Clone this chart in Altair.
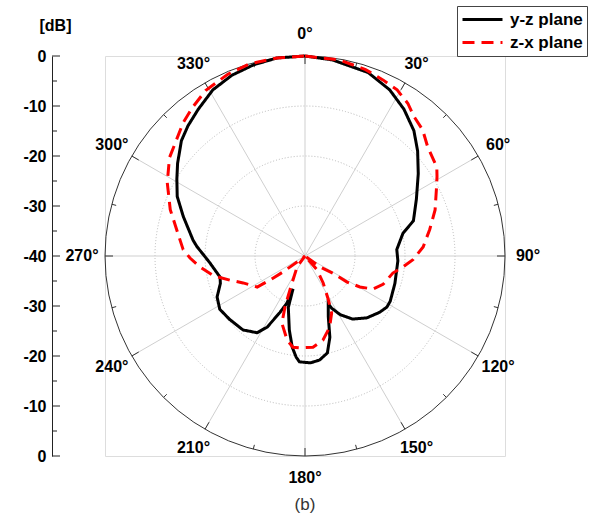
import altair as alt
import pandas as pd

# ---- data (angle in degrees clockwise from top, level in dB) ----
yz_angle = [0, 8, 19, 27, 34, 41, 47, 54, 63, 72, 77, 86, 93, 107, 118, 122, 127, 135, 143, 149, 153, 154,
            159, 163, 167, 172, 177, 183, 185, 188, 192, 198, 200, 201, 204, 208, 212, 220, 230, 238, 245,
            252, 256, 266, 275, 278, 288, 295, 301, 306, 313, 318, 324, 331, 338, 345, 352, 360]
yz_db = [0, -0.4, -1.2, -2.7, -4.6, -6.8, -9.2, -12, -15, -17.2, -19.9, -21.6, -21.4, -21.2, -20.7, -20.7,
         -21.3, -22.5, -24.2, -26.3, -28.3, -29.4, -27, -23, -20.1, -19, -18.6, -18.8, -19.7, -21.6, -24.9,
         -29.2, -33, -29.9, -27.6, -23.9, -21.9, -20.7, -20.3, -19.9, -20.6, -22.2, -22.5, -20.9, -18.3,
         -17.4, -14.4, -11.8, -10.1, -8.5, -6.2, -5, -3.7, -2, -1, -0.4, 0, 0]

zx_angle = [0, 10, 18, 24, 29, 34, 38, 43, 48.5, 56, 59, 63, 70.5, 78, 85.6, 92, 96.4, 101, 110, 116, 119.4,
            121.8, 121.5, 126, 133, 139, 146, 152, 155, 161, 168, 175, 183, 187.5, 192, 199, 201.4, 204,
            216, 225, 233, 234, 235.6, 237, 246.5, 252, 258, 264, 269, 273, 280, 289, 298, 306, 311, 317.5,
            323, 329, 337, 344, 352, 360]
zx_db = [0, -0.2, -0.8, -1.5, -2, -3.2, -4.6, -5.5, -7.2, -8.2, -9.2, -10.5, -12.4, -14.5, -16.3, -18.4,
         -20.3, -22.1, -23.4, -24.9, -27.4, -30.1, -33.4, -36.3, -40, -36.3, -33.5, -30, -27.4, -24.9,
         -22.8, -21.7, -21.6, -21.6, -22.8, -25.8, -29, -32.6, -37.3, -40, -38, -34.6, -31.5, -28.6, -26.5,
         -24.3, -21.2, -18.9, -17, -15.6, -14.2, -11.5, -8.8, -6.5, -5.6, -3.9, -2.7, -1.4, -0.5, 0, 0, 0]

series_names = ["y-z plane", "z-x plane"]
series_colors = ["black", "red"]

grid_db = [-30, -20, -10]
outer_db = [0]
spoke_angles = list(range(0, 360, 30))
tick_angles = list(range(0, 360, 15))
db_tick_values = list(range(-40, 41, 5))
db_label_values = list(range(-40, 41, 10))

# ---- tables ----
rows = []
for name, angs, dbs in [(series_names[0], yz_angle, yz_db), (series_names[1], zx_angle, zx_db)]:
    for i, (a, d) in enumerate(zip(angs, dbs)):
        rows.append({"series": name, "i": i, "angle": a, "db": d})
curves = pd.DataFrame(rows)

PX_PER_UNIT = 5.0
FONT = "Liberation Sans"

xscale = alt.Scale(domain=[-40, 40], nice=False, zero=False)
yscale = alt.Scale(domain=[-40, 40], nice=False, zero=False)
yaxis = alt.Axis(values=db_label_values, labelExpr="abs(datum.value) - 40", offset=53, ticks=False,
                 grid=False, domainColor="#222", domainWidth=1, labelFont=FONT,
                 labelFontWeight="bold", labelFontSize=16, labelColor="black", labelPadding=6,
                 title="[dB]", titleAngle=0, titleX=3, titleY=-31, titleAlign="center",
                 titleBaseline="middle", titleFont=FONT, titleFontSize=16,
                 titleFontWeight="bold", titleColor="black")


def X(f):
    return alt.X(f, type="quantitative", scale=xscale, axis=None)


def Y(f):
    return alt.Y(f, type="quantitative", scale=yscale, axis=yaxis)


# grid circles
circ = pd.DataFrame({"db": grid_db, "cx": 0, "cy": 0})
grid_circles = alt.Chart(circ).transform_calculate(
    s=f"pow(2*(datum.db+40)*{PX_PER_UNIT}, 2)"
).mark_point(shape="circle", filled=False, stroke="#b8b8b8", strokeWidth=1, strokeDash=[1, 2],
             opacity=1).encode(x=X("cx"), y=Y("cy"), size=alt.Size("s:Q", scale=None))

outer = alt.Chart(pd.DataFrame({"db": outer_db, "cx": 0, "cy": 0})).transform_calculate(
    s=f"pow(2*(datum.db+40)*{PX_PER_UNIT}, 2)"
).mark_point(shape="circle", filled=False, stroke="#333", strokeWidth=1, opacity=1).encode(
    x=X("cx"), y=Y("cy"), size=alt.Size("s:Q", scale=None))

# spokes
spk = pd.DataFrame({"angle": spoke_angles, "x0": 0, "y0": 0})
spokes = alt.Chart(spk).transform_calculate(
    x1="40*sin(datum.angle*PI/180)", y1="40*cos(datum.angle*PI/180)"
).mark_rule(color="#cfcfcf", strokeWidth=1).encode(
    x=X("x0"), y=Y("y0"), x2="x1:Q", y2="y1:Q")

# ticks on the outer circle
tk = pd.DataFrame({"angle": tick_angles})
circle_ticks = alt.Chart(tk).transform_calculate(
    rin="datum.angle % 30 == 0 ? 38.4 : 39.1",
    xa="40*sin(datum.angle*PI/180)", ya="40*cos(datum.angle*PI/180)",
    xb="datum.rin*sin(datum.angle*PI/180)", yb="datum.rin*cos(datum.angle*PI/180)"
).mark_rule(color="#333", strokeWidth=1).encode(x=X("xa"), y=Y("ya"), x2="xb:Q", y2="yb:Q")

# angle labels
lab = pd.DataFrame({"angle": spoke_angles})
angle_labels = alt.Chart(lab).transform_calculate(
    xt="44.6*sin(datum.angle*PI/180)", yt="44.4*cos(datum.angle*PI/180)",
    txt="datum.angle + '°'"
).mark_text(font=FONT, fontSize=16, fontWeight="bold", color="black",
            align="center", baseline="middle").encode(x=X("xt"), y=Y("yt"), text="txt:N")

# dB axis ticks (pointing right from axis line)
dbt = pd.DataFrame({"v": db_tick_values})
db_major = alt.Chart(dbt).transform_filter("datum.v % 10 == 0").mark_rule(
    color="#222", strokeWidth=1).encode(y=Y("v"), x=alt.value(-53), x2=alt.value(-45))
db_minor = alt.Chart(dbt).transform_filter("datum.v % 10 != 0").mark_rule(
    color="#222", strokeWidth=1).encode(y=Y("v"), x=alt.value(-53), x2=alt.value(-48))

legend_kw = dict(title=None, orient="none", legendX=352, legendY=-50,
                 strokeColor="#444", fillColor="white", padding=4,
                 labelFont=FONT, labelFontSize=17, labelFontWeight="bold", labelColor="black",
                 symbolType="stroke", symbolSize=1600, symbolStrokeWidth=3,
                 labelOffset=6, rowPadding=4, clipHeight=19)

# curves
lines = alt.Chart(curves).transform_calculate(
    r="max(datum.db + 40, 0)",
    x="datum.r*sin(datum.angle*PI/180)",
    y="datum.r*cos(datum.angle*PI/180)"
).mark_line(strokeWidth=3, clip=False).encode(
    x=X("x"), y=Y("y"),
    color=alt.Color("series:N", scale=alt.Scale(domain=series_names, range=series_colors),
                    legend=alt.Legend(**legend_kw)),
    strokeDash=alt.StrokeDash("series:N", scale=alt.Scale(domain=series_names, range=[[1, 0], [12, 7]]),
                              legend=alt.Legend(**legend_kw)),
    order="i:Q",
)

# caption
cap = pd.DataFrame({"cx": [0], "cy": [-49.8], "t": ["(b)"]})
caption = alt.Chart(cap).mark_text(font=FONT, fontSize=17, color="#333",
                                   align="center", baseline="middle").encode(
    x=X("cx"), y=Y("cy"), text="t:N")

chart = alt.layer(grid_circles, spokes, outer, circle_ticks, angle_labels, db_major, db_minor,
                  lines, caption).properties(
    width=400, height=400, autosize="none",
    padding={"left": 105, "top": 56, "right": 95, "bottom": 71},
).configure_view(stroke=None).configure(background="white")

chart.save("out.html", embed_options={"renderer": "svg", "actions": False})
